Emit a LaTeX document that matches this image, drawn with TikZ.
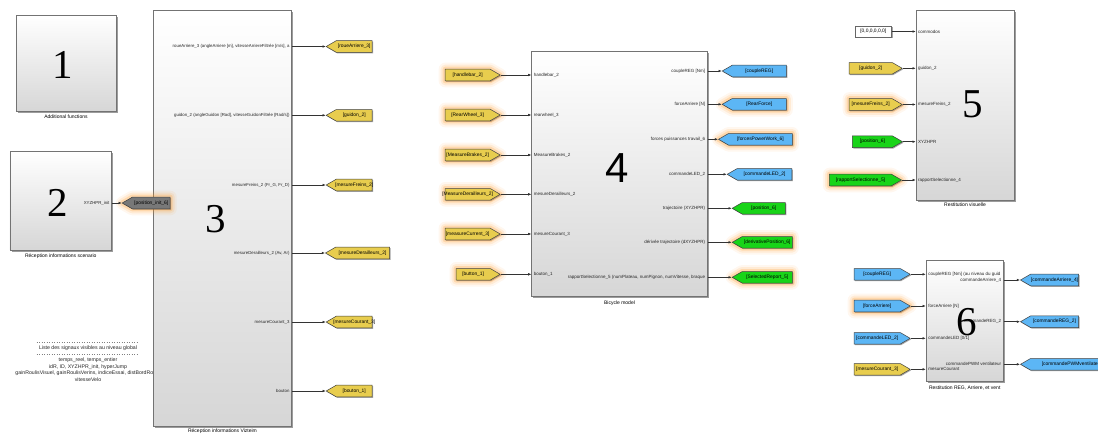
\documentclass[tikz,border=0pt]{standalone}
\usepackage{fontspec}
\setmainfont{Liberation Sans}
\newfontfamily\numserif{Liberation Serif}
\usetikzlibrary{shapes.symbols,shadows,arrows.meta}
\definecolor{tagyellow}{RGB}{232,205,78}
\definecolor{tagblue}{RGB}{92,182,245}
\definecolor{taggreen}{RGB}{24,212,24}
\definecolor{taggray}{RGB}{120,120,120}
\definecolor{glowc}{RGB}{255,150,30}
\newcommand{\tagtxt}[2]{\makebox[#1pt]{#2}}
\tikzset{
  blk/.style={draw=black!55, line width=0.6pt, top color=white, bottom color=black!16,
    drop shadow={shadow xshift=1.6pt, shadow yshift=-1.6pt, fill=black!70, opacity=0.55}, inner sep=0pt},
  tagbase/.style={shape=signal, signal pointer angle=60, draw=black!75, line width=0.5pt,
    font=\fontsize{4.9}{5}\selectfont, text height=3.5pt, text depth=1.1pt, inner xsep=1pt, inner ysep=3.5pt,
    drop shadow={shadow xshift=1pt, shadow yshift=-1pt, fill=black!70, opacity=0.5}},
  gototag/.style={tagbase, signal to=west, anchor=west},
  fromtag/.style={tagbase, signal to=east, anchor=east},
  glow/.style={preaction={draw=glowc, line width=13pt, opacity=0.07, line join=round},
    preaction={draw=glowc, line width=9pt, opacity=0.12, line join=round},
    preaction={draw=glowc, line width=5pt, opacity=0.22, line join=round}},
  conn/.style={draw=black!80, line width=0.55pt, -{Latex[length=3.2pt,width=2.6pt]}},
  plab/.style={font=\fontsize{4.5}{5}\selectfont, inner sep=0.8pt, text=black!85},
  plabs/.style={font=\fontsize{4.35}{5}\selectfont, inner sep=0.8pt, text=black!85},
  blab/.style={font=\fontsize{5}{5.5}\selectfont, inner sep=0.5pt, anchor=north},
  note/.style={font=\fontsize{5.2}{5.5}\selectfont, inner sep=0.3pt, text=black!85},
  bignum/.style={font=\numserif\fontsize{41}{41}\selectfont, inner sep=0pt},
  bigsans/.style={font=\fontsize{42}{42}\selectfont, inner sep=0pt},
}
\begin{document}
\begin{tikzpicture}[x=1pt, y=-1pt]
\useasboundingbox[fill=white] (0,0) rectangle (1098,434);

% ---------- note (global signals) ----------
\coordinate (d1a) at (36.7,342.3); \coordinate (d1b) at (138,342.3);
\coordinate (d2a) at (36.7,354); \coordinate (d2b) at (138,354);
\draw[black!50, dotted, line width=0.5pt] (d1a) -- (d1b);
\draw[black!50, dotted, line width=0.5pt] (d2a) -- (d2b);
\node[note] (nt0) at (88,348) {Liste des signaux visibles au niveau global};
\node[note] (nt1) at (88,360) {temps\_reel, temps\_entier};
\node[note] (nt2) at (88,366.7) {idR, ID, XYZHPR\_init, hyperJump};
\node[note] (nt3) at (88,373.3) {gainRoulisVisuel, gainRoulisVerins, indiceEssai, distBordRoute};
\node[note] (nt4) at (88,380) {vitesseVelo};

% ---------- block 1 ----------
\node[blk, minimum width=100pt, minimum height=96.7pt] (b1) at (66,63.3) {};
\node[bignum] (n1) at (63,65) {1};
\node[blab] (l1) at ([yshift=-2pt]b1.south) {Additional functions};

% ---------- block 2 ----------
\node[blk, minimum width=101.7pt, minimum height=98.3pt] (b2) at (60.8,200.8) {};
\node[bignum] (n2) at (58,203) {2};
\node[blab] (l2) at ([yshift=-3pt]b2.south) {Réception informations scenario};

% ---------- block 3 ----------
\node[blk, minimum width=138.4pt, minimum height=416.7pt] (b3) at (222.5,218.3) {};
\node[bignum] (n3) at (216,219) {3};
\node[blab] (l3) at ([yshift=-1.2pt]b3.south) {Réception informations Vizteim};

\node[gototag, fill=taggray, glow] (g21) at (121.7,203) {\tagtxt{36}{[position\_init\_6]}};
\node[plabs, anchor=east] (p21) at ([xshift=-1.5pt]b2.east |- g21.west) {XYZHPR\_init};
\draw[conn] (b2.east |- g21.west) -- (g21.west);

\node[gototag, fill=tagyellow] (g31) at (325.7,46.5) {\tagtxt{34}{[roueArriere\_3]}};
\node[gototag, fill=tagyellow] (g32) at (325.7,115.3) {\tagtxt{34}{[guidon\_2]}};
\node[gototag, fill=tagyellow] (g33) at (325.7,185) {\tagtxt{34}{[mesureFreins\_2]}};
\node[gototag, fill=tagyellow] (g34) at (325,253) {\tagtxt{52}{[mesureDerailleurs\_2]}};
\node[gototag, fill=tagyellow] (g35) at (325.7,322) {\tagtxt{34}{[mesureCourant\_3]}};
\node[gototag, fill=tagyellow] (g36) at (325.7,391) {\tagtxt{34}{[bouton\_1]}};
\foreach \g/\t in {g31/{roueArriere\_3 (angleArriere [m], vitesseArriereFiltrée [m/s], a},
                   g32/{guidon\_2 (angleGuidon [Rad], vitesseGuidonFiltrée [Rad/s])},
                   g33/{mesureFreins\_2 (Fr\_G, Fr\_D)},
                   g34/{mesureDerailleurs\_2 (Av, Ar)},
                   g35/{mesureCourant\_3},
                   g36/{bouton}}{
  \node[plabs, anchor=east] (p-\g) at ([xshift=-1.5pt]b3.east |- \g.west) {\t};
  \draw[conn] (b3.east |- \g.west) -- (\g.west);
}

% ---------- block 4 ----------
\node[blk, minimum width=175.6pt, minimum height=245.7pt] (b4) at (619.5,173.8) {};
\node[blab] (l4) at ([yshift=-3pt]b4.south) {Bicycle model};

\node[fromtag, fill=tagyellow, glow] (f41) at (500.7,75) {\tagtxt{43}{[handlebar\_2]}};
\node[fromtag, fill=tagyellow, glow] (f42) at (500.7,115) {\tagtxt{43}{[RearWheel\_3]}};
\node[fromtag, fill=tagyellow, glow] (f43) at (500.7,155) {\tagtxt{43}{[MeasureBrakes\_2]}};
\node[fromtag, fill=tagyellow, glow] (f44) at (500.7,194.3) {\tagtxt{43}{[MeasureDerailleurs\_2]}};
\node[fromtag, fill=tagyellow, glow] (f45) at (500.7,234) {\tagtxt{43}{[measureCurrent\_3]}};
\node[fromtag, fill=tagyellow, glow] (f46) at (500.7,274.3) {\tagtxt{32}{[button\_1]}};
\foreach \f/\t in {f41/handlebar\_2, f42/rearwheel\_3, f43/MeasureBrakes\_2,
                   f44/mesureDerailleurs\_2, f45/mesureCourant\_3, f46/bouton\_1}{
  \node[plab, anchor=west] (p-\f) at ([xshift=1.5pt]b4.west |- \f.east) {\t};
  \draw[conn] (\f.east) -- (b4.west |- \f.east);
}

\node[gototag, fill=tagblue] (o41) at (721.7,71) {\tagtxt{52}{[coupleREG]}};
\node[gototag, fill=tagblue, glow] (o42) at (721.7,104.3) {\tagtxt{52}{[RearForce]}};
\node[gototag, fill=tagblue, glow] (o43) at (718,139.3) {\tagtxt{61.7}{[forcesPowerWork\_6]}};
\node[gototag, fill=tagblue] (o44) at (726.7,174.3) {\tagtxt{52.7}{[commandeLED\_2]}};
\node[gototag, fill=taggreen] (o45) at (731.7,208.3) {\tagtxt{41}{[position\_6]}};
\node[gototag, fill=taggreen, glow] (o46) at (731.7,242.3) {\tagtxt{48}{[derivativePosition\_6]}};
\node[gototag, fill=taggreen, glow] (o47) at (731.7,277.3) {\tagtxt{48}{[SelectedReport\_5]}};
\foreach \o/\t in {o41/{coupleREG [Nm]}, o42/{forceArriere [N]}, o43/{forces puissances travail\_6},
                   o44/{commandeLED\_2}, o45/{trajectoire (XYZHPR)}, o46/{dérivée trajectoire (dXYZHPR)},
                   o47/{rapportSelectionne\_5 (numPlateau, numPignon, numVitesse, braque}}{
  \node[plab, anchor=east] (p-\o) at ([xshift=-1.5pt]b4.east |- \o.west) {\t};
  \draw[conn] (b4.east |- \o.west) -- (\o.west);
}
\node[bigsans] (n4) at (616.7,168.3) {4};

% ---------- block 5 ----------
\node[blk, minimum width=98pt, minimum height=190pt] (b5) at (965,105) {};
\node[blab] (l5) at ([yshift=-2pt]b5.south) {Restitution visuelle};
\node[draw=black!60, fill=white, line width=0.6pt, minimum width=36.7pt, minimum height=10.7pt, inner sep=0pt,
      font=\fontsize{4.9}{5}\selectfont, drop shadow={shadow xshift=1pt, shadow yshift=-1pt, fill=black!70, opacity=0.5}]
      (c51) at (873.3,31.5) {[0,0,0,0,0,0]};
\node[fromtag, fill=tagyellow] (f52) at (902.7,68.3) {\tagtxt{41}{[guidon\_2]}};
\node[fromtag, fill=tagyellow, glow] (f53) at (902.7,104.5) {\tagtxt{41}{[mesureFreins\_2]}};
\node[fromtag, fill=taggreen] (f54) at (903,141.7) {\tagtxt{38}{[position\_6]}};
\node[fromtag, fill=taggreen, glow] (f55) at (902,180) {\tagtxt{60}{[rapportSelectionne\_5]}};
\node[plab, anchor=west] (p-c51) at ([xshift=1.5pt]b5.west |- c51.east) {commodos};
\draw[conn] (c51.east) -- (b5.west |- c51.east);
\foreach \f/\t in {f52/guidon\_2, f53/mesureFreins\_2, f54/XYZHPR, f55/rapportSelectionne\_4}{
  \node[plab, anchor=west] (p-\f) at ([xshift=1.5pt]b5.west |- \f.east) {\t};
  \draw[conn] (\f.east) -- (b5.west |- \f.east);
}
\node[bignum] (n5) at (973,104) {5};

% ---------- block 6 ----------
\node[blk, minimum width=77.3pt, minimum height=121.7pt] (b6) at (964.7,320.8) {};
\node[blab] (l6) at ([yshift=-3pt]b6.south) {Restitution REG, Arriere, et vent};
\node[fromtag, fill=tagblue] (f61) at (910.7,274.3) {\tagtxt{44}{[coupleREG]}};
\node[fromtag, fill=tagblue, glow] (f62) at (910.7,306) {\tagtxt{44}{[forceArriere]}};
\node[fromtag, fill=tagblue] (f63) at (910.7,338.3) {\tagtxt{44}{[commandeLED\_2]}};
\node[fromtag, fill=tagyellow] (f64) at (910.7,369.3) {\tagtxt{44}{[mesureCourant\_3]}};
\foreach \f/\t in {f61/{coupleREG [Nm] (au niveau du guid}, f62/{forceArriere [N]},
                   f63/{commandeLED [0/1]}, f64/{mesureCourant}}{
  \node[plab, anchor=west] (p-\f) at ([xshift=1.5pt]b6.west |- \f.east) {\t};
  \draw[conn] (\f.east) -- (b6.west |- \f.east);
}
\node[gototag, fill=tagblue] (o61) at (1020,280) {\tagtxt{46}{[commandeArriere\_4]}};
\node[gototag, fill=tagblue] (o62) at (1020,321.7) {\tagtxt{46}{[commandeREG\_2]}};
\node[gototag, fill=tagblue] (o63) at (1020,364.3) {\tagtxt{82}{[commandePWMventilateur]}};
\foreach \o/\t in {o61/commandeArriere\_4, o62/commandeREG\_2, o63/{commandePWM ventilateur}}{
  \node[plab, anchor=east] (p-\o) at ([xshift=-1.5pt]b6.east |- \o.west) {\t};
  \draw[conn] (b6.east |- \o.west) -- (\o.west);
}
\node[bignum] (n6) at (966.7,321.7) {6};
\end{tikzpicture}
\end{document}
